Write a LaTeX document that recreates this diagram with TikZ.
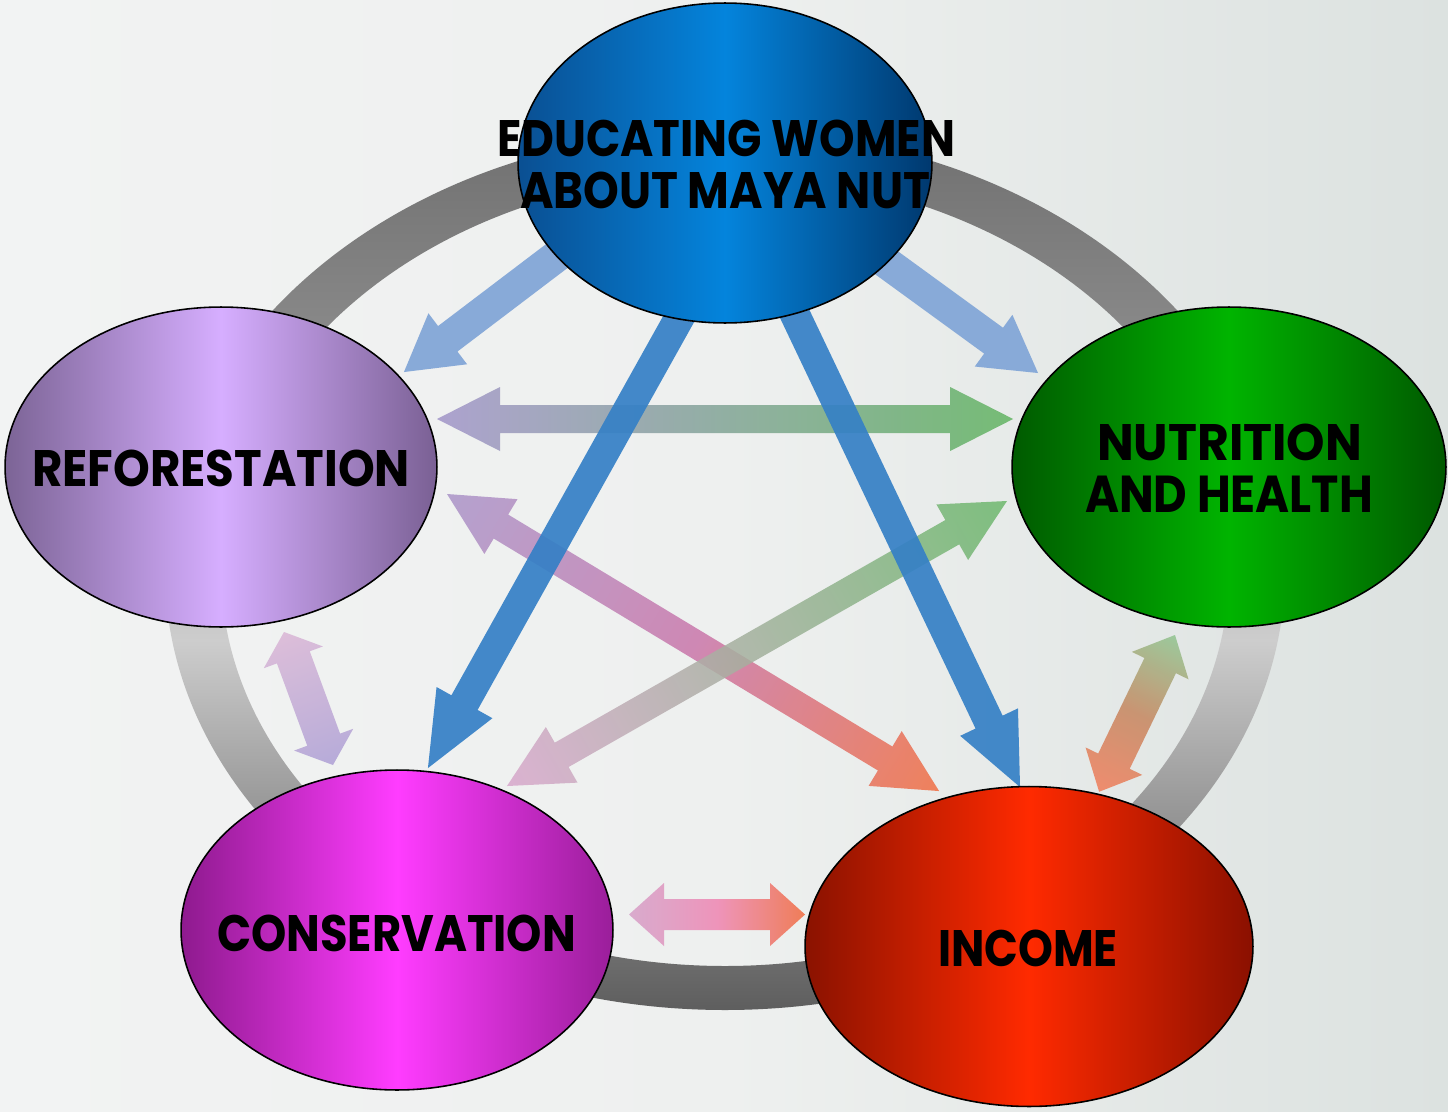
\documentclass[tikz,border=0pt]{standalone}
\usepackage{fontspec}
\setmainfont{Poppins}
\usepackage{graphicx}
\usetikzlibrary{shapes.geometric}

% palette
\definecolor{bgL}{HTML}{F2F3F3}
\definecolor{bgM}{HTML}{EEF0EF}
\definecolor{bgR}{HTML}{DCE2E0}
\definecolor{rgA}{HTML}{5E5E5E}
\definecolor{rgB}{HTML}{9A9A9A}
\definecolor{rgC}{HTML}{CDCDCD}
\definecolor{rgD}{HTML}{878787}
\definecolor{rgE}{HTML}{707070}
\definecolor{bluL}{HTML}{0A4F92}
\definecolor{bluM}{HTML}{0484DC}
\definecolor{bluR}{HTML}{00386E}
\definecolor{purL}{HTML}{7C6496}
\definecolor{purM}{HTML}{D6AEFF}
\definecolor{purR}{HTML}{7A6094}
\definecolor{grnL}{HTML}{005A00}
\definecolor{grnM}{HTML}{00B400}
\definecolor{grnR}{HTML}{005800}
\definecolor{magL}{HTML}{8E1A8E}
\definecolor{magM}{HTML}{FF3CFF}
\definecolor{magR}{HTML}{9A1E9A}
\definecolor{redL}{HTML}{8A1200}
\definecolor{redM}{HTML}{FF2A00}
\definecolor{redR}{HTML}{8A1000}
\definecolor{skyA}{HTML}{88AAD8}
\definecolor{deepA}{HTML}{3580C6}
\definecolor{lavA}{HTML}{A89CCC}
\definecolor{lavB}{HTML}{B4A8D8}
\definecolor{lavC}{HTML}{B09CCC}
\definecolor{grA}{HTML}{6CB86C}
\definecolor{grB}{HTML}{98C898}
\definecolor{pkA}{HTML}{D8A8CC}
\definecolor{pkB}{HTML}{CC80B0}
\definecolor{pkC}{HTML}{DCBCD8}
\definecolor{pkD}{HTML}{EE90B8}
\definecolor{orA}{HTML}{F07850}
\definecolor{orB}{HTML}{F08868}
\definecolor{brA}{HTML}{C8906C}

% grey ring, dark at top and bottom, light at the sides
\pgfdeclareverticalshading{ringshade}{100bp}{%
  color(0bp)=(rgA); color(25bp)=(rgA); color(36.9bp)=(rgB);
  color(46bp)=(rgC); color(64.2bp)=(rgD); color(75bp)=(rgE); color(100bp)=(rgE)}

% length (in px units) and angle between two named points
\makeatletter
\newcommand\argeom[2]{%
  \pgfpointdiff{\pgfpointanchor{#1}{center}}{\pgfpointanchor{#2}{center}}%
  \edef\ar@dx{\the\pgf@x}\edef\ar@dy{\the\pgf@y}%
  \pgfmathsetmacro\arl{veclen(\ar@dx,\ar@dy)/0.569055}%
  \pgfmathsetmacro\arang{atan2(\ar@dy,\ar@dx)}%
}
\makeatother

% block arrow with one head: #1 tail, #2 tip, #3 shaft, #4 head width, #5 head length, #6 paint
\newcommand\oneway[6]{%
  \argeom{#1}{#2}%
  \begin{scope}[transform canvas={shift={(#1)},rotate=\arang},x=0.02cm,y=0.02cm]
    \path[#6] (0,{#3/2}) -- ({\arl-#5},{#3/2}) -- ({\arl-#5},{#4/2}) -- (\arl,0)
      -- ({\arl-#5},{-#4/2}) -- ({\arl-#5},{-#3/2}) -- (0,{-#3/2}) -- cycle;
  \end{scope}}

% block arrow with two heads
\newcommand\duoarrow[6]{%
  \argeom{#1}{#2}%
  \begin{scope}[transform canvas={shift={(#1)},rotate=\arang},x=0.02cm,y=0.02cm]
    \path[#6] (0,0) -- (#5,{#4/2}) -- (#5,{#3/2}) -- ({\arl-#5},{#3/2}) -- ({\arl-#5},{#4/2})
      -- (\arl,0) -- ({\arl-#5},{-#4/2}) -- ({\arl-#5},{-#3/2}) -- (#5,{-#3/2}) -- (#5,{-#4/2}) -- cycle;
  \end{scope}}

\newcommand\fitcaps[2]{\resizebox{#1}{0.73cm}{\bfseries #2}}

\tikzset{
  bubble/.style={ellipse, draw=black, line width=0.9pt, inner sep=0pt, outer sep=0pt},
  lbl/.style={inner sep=0pt, outer sep=0pt, text=black},
}

\begin{document}
\begin{tikzpicture}[x=0.02cm, y=-0.02cm]
\useasboundingbox (0,0) rectangle (1448,1112);
\fill[left color=bgL, right color=bgR, middle color=bgM] (0,0) rectangle (1448,1112);

% ring behind the five topics
\shade[shading=ringshade, even odd rule]
  (725,570) ellipse [x radius=560, y radius=440]
  (725,570) ellipse [x radius=504, y radius=396];

% arrow end points
\coordinate (eduRfA) at (603,221);  \coordinate (eduRfB) at (404,372);
\coordinate (eduNhA) at (836,226);  \coordinate (eduNhB) at (1038,373);
\coordinate (eduCsA) at (701,279);  \coordinate (eduCsB) at (428,768);
\coordinate (eduInA) at (780,283);  \coordinate (eduInB) at (1020,787);
\coordinate (rfNhA) at (437,419);   \coordinate (rfNhB) at (1013,419);
\coordinate (rfInA) at (447,494);   \coordinate (rfInB) at (939,791);
\coordinate (nhCsA) at (1007,501);  \coordinate (nhCsB) at (507,786);
\coordinate (rfCsA) at (284,632);   \coordinate (rfCsB) at (333,765);
\coordinate (nhInA) at (1175,635);  \coordinate (nhInB) at (1099,792);
\coordinate (csInA) at (629,914.5); \coordinate (csInB) at (805,914.5);

% links between the topics
\duoarrow{rfNhA}{rfNhB}{28}{64}{63}{left color=lavA, right color=grA, opacity=0.92}
\duoarrow{rfInA}{rfInB}{28}{64}{63}{left color=lavC, right color=orA, middle color=pkB, opacity=0.92}
\duoarrow{nhCsA}{nhCsB}{28}{64}{63}{left color=grA, right color=pkA, opacity=0.85}
\duoarrow{rfCsA}{rfCsB}{35}{63}{27}{left color=pkC, right color=lavB, opacity=0.95}
\duoarrow{nhInA}{nhInB}{35}{63}{34}{left color=grB, right color=orB, middle color=brA, opacity=0.95}
\duoarrow{csInA}{csInB}{31}{63}{35}{left color=pkA, right color=orA, middle color=pkD, opacity=0.95}
\oneway{eduRfA}{eduRfB}{32}{64}{55}{fill=skyA}
\oneway{eduNhA}{eduNhB}{32}{64}{55}{fill=skyA}
\oneway{eduCsA}{eduCsB}{30}{64}{75}{fill=deepA, fill opacity=0.92}
\oneway{eduInA}{eduInB}{30}{64}{72}{fill=deepA, fill opacity=0.92}

% topics
\node[bubble, minimum width=8.28cm, minimum height=6.4cm,
      left color=bluL, right color=bluR, middle color=bluM] (edu) at (725,163) {};
\node[bubble, minimum width=8.64cm, minimum height=6.4cm,
      left color=purL, right color=purR, middle color=purM] (rf) at (221,467) {};
\node[bubble, minimum width=8.68cm, minimum height=6.4cm,
      left color=grnL, right color=grnR, middle color=grnM] (nh) at (1229,467) {};
\node[bubble, minimum width=8.64cm, minimum height=6.4cm,
      left color=magL, right color=magR, middle color=magM] (cs) at (397,930) {};
\node[bubble, minimum width=8.96cm, minimum height=6.4cm,
      left color=redL, right color=redR, middle color=redM] (inc) at (1029,946.5) {};

% labels
\node[lbl] (eduT1) at (726,138.5) {\fitcaps{9.16cm}{EDUCATING WOMEN}};
\node[lbl] (eduT2) at (725,190) {\fitcaps{8.2cm}{ABOUT MAYA NUT}};
\node[lbl] (rfT) at (221,468) {\fitcaps{7.56cm}{REFORESTATION}};
\node[lbl] (nhT1) at (1229.5,442.5) {\fitcaps{5.3cm}{NUTRITION}};
\node[lbl] (nhT2) at (1229,494) {\fitcaps{5.76cm}{AND HEALTH}};
\node[lbl] (csT) at (396.5,933) {\fitcaps{7.18cm}{CONSERVATION}};
\node[lbl] (inT) at (1028,948.5) {\fitcaps{3.6cm}{INCOME}};
\end{tikzpicture}
\end{document}
